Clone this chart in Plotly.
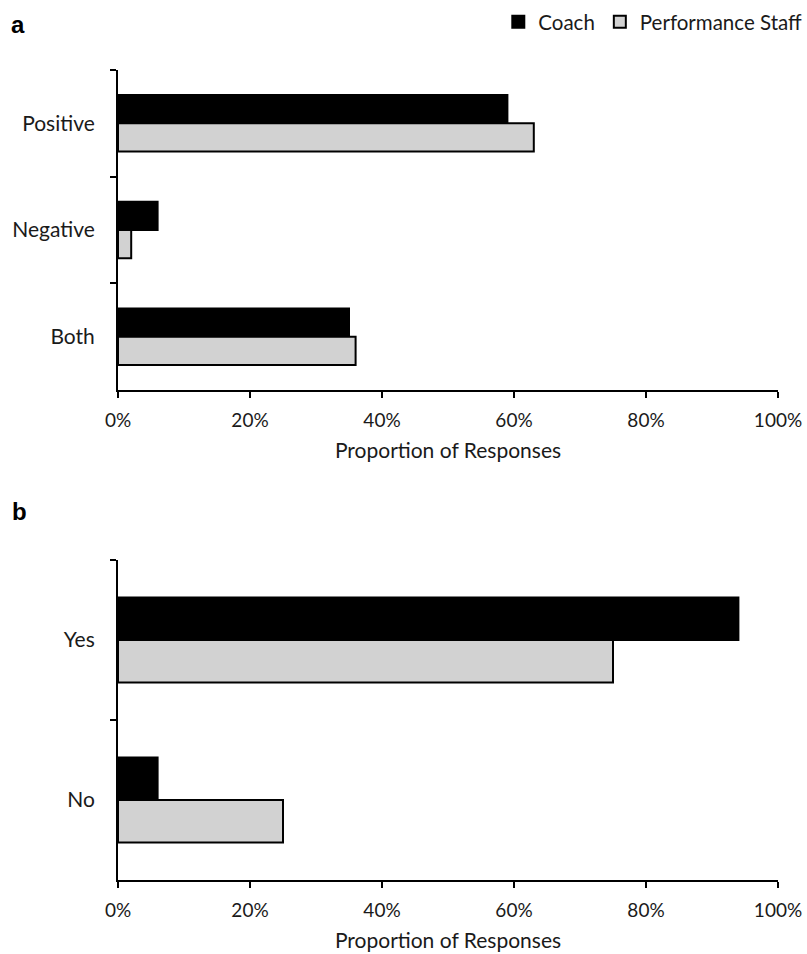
import plotly.graph_objects as go
from plotly.subplots import make_subplots

cats_a = ["Positive", "Negative", "Both"]
coach_a = [59, 6, 35]
staff_a = [63, 2, 36]

cats_b = ["Yes", "No"]
coach_b = [94, 6]
staff_b = [75, 25]

x_ticks = [0, 20, 40, 60, 80, 100]
x_tick_labels = ["0%", "20%", "40%", "60%", "80%", "100%"]

FONT = "Lato, 'Open Sans', sans-serif"
FS = 21
W, H = 807, 954
L, R, T, B = 117.7, 29.3, 70, 74
pw = W - L - R
ph = H - T - B

fig = make_subplots(rows=2, cols=1, vertical_spacing=0.2)

coach_marker = dict(color="black", line=dict(color="black", width=2))
staff_marker = dict(color="#d2d2d2", line=dict(color="black", width=2))

fig.add_trace(go.Bar(y=cats_a, x=coach_a, orientation="h", name="Coach",
                     marker=coach_marker, legendgroup="c"), row=1, col=1)
fig.add_trace(go.Bar(y=cats_a, x=staff_a, orientation="h", name="Performance Staff",
                     marker=staff_marker, legendgroup="s"), row=1, col=1)
fig.add_trace(go.Bar(y=cats_b, x=coach_b, orientation="h", name="Coach",
                     marker=coach_marker, legendgroup="c", showlegend=False), row=2, col=1)
fig.add_trace(go.Bar(y=cats_b, x=staff_b, orientation="h", name="Performance Staff",
                     marker=staff_marker, legendgroup="s", showlegend=False), row=2, col=1)

bot_a = 1 - 320 / ph
top_b = 320 / ph

xax = dict(range=[0, 100], tickvals=x_ticks, ticktext=x_tick_labels,
           showline=True, linecolor="black", linewidth=2,
           ticks="outside", ticklen=6, tickwidth=2, tickcolor="black",
           showgrid=False, zeroline=False, ticklabelstandoff=6,
           tickfont=dict(family=FONT, size=19, color="#1a1a1a"),
           title=dict(text="Proportion of Responses", standoff=14,
                      font=dict(family=FONT, size=FS, color="#1a1a1a")))
yax = dict(showline=True, linecolor="black", linewidth=2,
           ticks="outside", ticklen=6, tickwidth=2, tickcolor="black",
           tickson="boundaries", showgrid=False, zeroline=False,
           autorange="reversed", ticklabelstandoff=17,
           tickfont=dict(family=FONT, size=FS, color="#1a1a1a"))

fig.update_layout(
    width=W, height=H,
    margin=dict(l=L, r=R, t=T, b=B, autoexpand=False),
    paper_bgcolor="white", plot_bgcolor="white",
    barmode="group", bargap=0.47, bargroupgap=0,
    xaxis=dict(**xax, domain=[0, 1]),
    xaxis2=dict(**xax, domain=[0, 1]),
    yaxis=dict(**yax, domain=[bot_a, 1]),
    yaxis2=dict(**yax, domain=[0, top_b]),
    legend=dict(orientation="h", x=(498 - L) / pw, xanchor="left",
                y=1 + (T - 22) / ph, yanchor="middle",
                font=dict(family=FONT, size=20.5, color="#1a1a1a"),
                itemwidth=30, traceorder="normal", tracegroupgap=0),
    annotations=[
        dict(text="<b>a</b>", xref="paper", yref="paper", x=(18 - L) / pw,
             y=1 + (T - 24.5) / ph, xanchor="center", yanchor="middle", showarrow=False,
             font=dict(family="Liberation Sans, Arial", size=24, color="black")),
        dict(text="<b>b</b>", xref="paper", yref="paper", x=(19 - L) / pw,
             y=(H - B - 511) / ph, xanchor="center", yanchor="middle", showarrow=False,
             font=dict(family="Liberation Sans, Arial", size=24, color="black")),
    ],
)

fig.write_html("out.html", config={"displayModeBar": False},
               post_script="document.body.style.margin='0';")
